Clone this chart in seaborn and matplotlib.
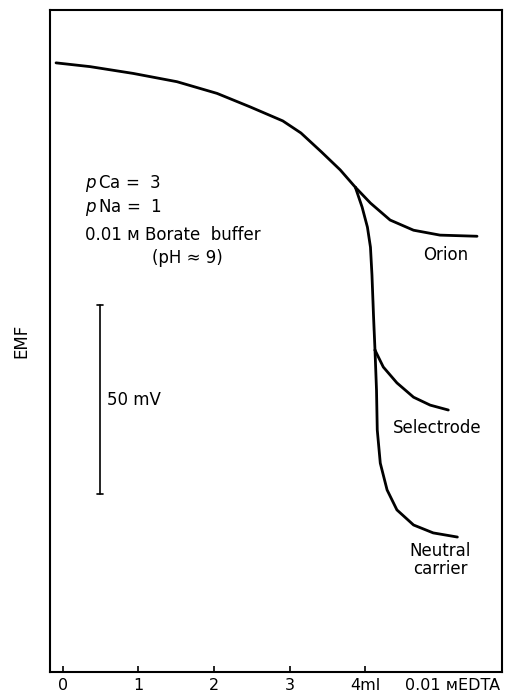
import matplotlib
matplotlib.use("Agg")
import matplotlib.pyplot as plt
import seaborn as sns
import pandas as pd

# curve values (x in ml 0.01 M EDTA, y in mV, arbitrary zero)
main_x = [-0.09, 0.36, 0.93, 1.51, 2.04, 2.48, 2.91, 3.15, 3.42, 3.67, 3.87]
main_y = [161.6, 160.6, 158.8, 156.6, 153.5, 149.9, 146.2, 143.0, 138.0, 133.2, 128.6]

orion_x = [3.87, 4.07, 4.33, 4.64, 4.99, 5.48]
orion_y = [128.6, 124.4, 119.9, 117.2, 115.9, 115.6]

trunk_x = [3.87, 3.96, 4.03, 4.07, 4.09, 4.11, 4.11, 4.13]
trunk_y = [128.6, 123.3, 118.0, 112.7, 105.3, 98.7, 90.7, 85.4]

selectrode_x = [4.13, 4.24, 4.42, 4.64, 4.86, 5.10]
selectrode_y = [85.4, 80.9, 76.7, 72.9, 70.8, 69.5]

neutral_x = [4.13, 4.15, 4.16, 4.20, 4.29, 4.42, 4.64, 4.90, 5.22]
neutral_y = [85.4, 74.8, 64.2, 55.4, 48.3, 43.0, 39.0, 36.9, 35.8]

xticks = [0, 1, 2, 3, 4]
xtick_labels = ["0", "1", "2", "3", "4ml"]

sns.set_style("white")
plt.rcParams["font.family"] = ["DejaVu Sans"]
plt.rcParams["text.color"] = "black"
plt.rcParams["xtick.color"] = "black"
plt.rcParams["axes.labelcolor"] = "black"

fig = plt.figure(figsize=(5.05, 6.96), dpi=100)
ax = fig.add_axes([0.099, 0.0345, 0.895, 0.951])

curves = [(main_x, main_y), (orion_x, orion_y), (trunk_x, trunk_y),
          (selectrode_x, selectrode_y), (neutral_x, neutral_y)]
for xs, ys in curves:
    df = pd.DataFrame({"x": xs, "y": ys})
    sns.lineplot(data=df, x="x", y="y", sort=False, color="black", lw=2.0, ax=ax)

ax.set_xlim(-0.17, 5.81)
ax.set_ylim(0, 175.6)
ax.set_xticks(xticks)
ax.set_xticklabels(xtick_labels, fontsize=11.5)
ax.set_yticks([])
ax.tick_params(axis="x", direction="in", length=4, width=1.2, pad=4.5, bottom=True)
for s in ax.spines.values():
    s.set_linewidth(1.5)
    s.set_color("black")
ax.set_xlabel("")
ax.set_ylabel("EMF", fontsize=12, labelpad=14)

ax.text(4.53, -0.020, "0.01 ᴍEDTA", transform=ax.get_xaxis_transform(),
        fontsize=11.5, va="center", ha="left")

# annotations
ax.text(0.29, 129.7, r"$\it{p}\,$Ca =  3", fontsize=12, va="center")
ax.text(0.29, 123.1, r"$\it{p}\,$Na =  1", fontsize=12, va="center")
ax.text(0.29, 115.9, "0.01 ᴍ Borate  buffer", fontsize=12, va="center")
ax.text(1.18, 109.8, "(pH ≈ 9)", fontsize=12, va="center")

# 50 mV scale bar
ax.plot([0.49, 0.49], [47.2, 97.3], color="black", lw=1.2)
ax.plot([0.45, 0.53], [47.2, 47.2], color="black", lw=1.2)
ax.plot([0.45, 0.53], [97.3, 97.3], color="black", lw=1.2)
ax.text(0.58, 72.1, "50 mV", fontsize=12, va="center")

ax.text(4.77, 110.6, "Orion", fontsize=12, va="center")
ax.text(4.37, 64.7, "Selectrode", fontsize=12, va="center")
ax.text(4.99, 29.7, "Neutral\ncarrier", fontsize=12, va="center", ha="center",
        linespacing=1.0)

fig.savefig("out.png", dpi=100)
plt.close(fig)
